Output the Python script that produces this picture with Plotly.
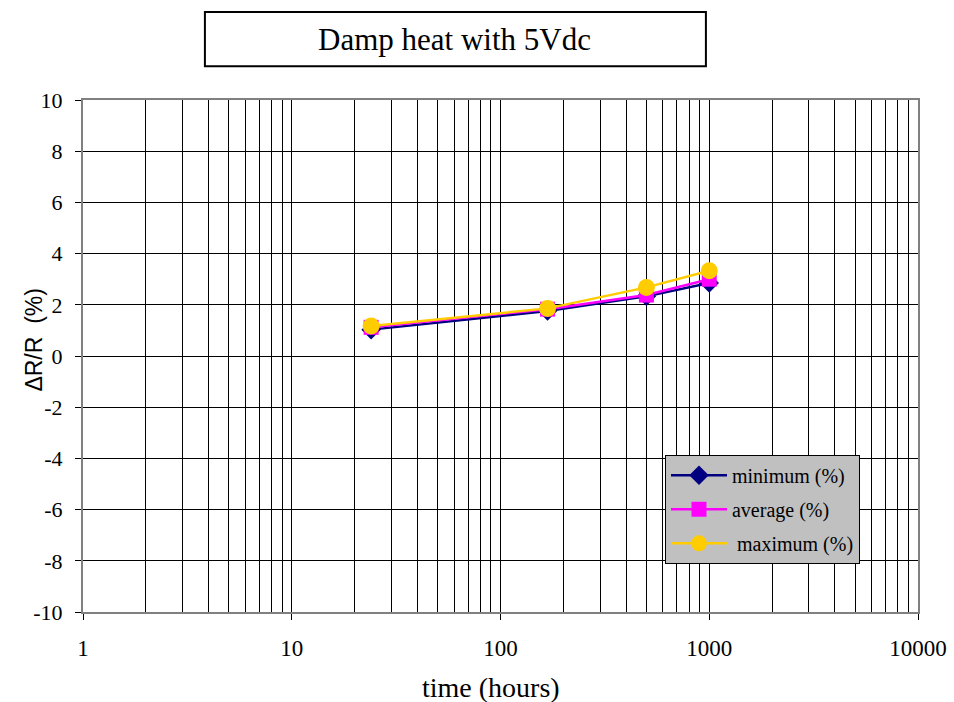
import plotly.graph_objects as go

time_hours = [24, 168, 500, 1000]
minimum_pct = [1.03, 1.76, 2.33, 2.85]
average_pct = [1.12, 1.83, 2.38, 3.0]
maximum_pct = [1.17, 1.86, 2.68, 3.33]

series_names = ["minimum (%)", "average (%)", " maximum (%)"]
y_ticks = list(range(-10, 11, 2))
x_ticks = [1, 10, 100, 1000, 10000]

serif = "Liberation Serif"
sans = "Liberation Sans"

fig = go.Figure()
fig.add_trace(go.Scatter(
    x=time_hours, y=minimum_pct, name=series_names[0], mode="lines+markers",
    line=dict(color="#000080", width=2.5),
    marker=dict(symbol="diamond", size=15, color="#000080"),
    legendgroup="a"))
fig.add_trace(go.Scatter(
    x=time_hours, y=average_pct, name=series_names[1], mode="lines+markers",
    line=dict(color="#FF00FF", width=2.5),
    marker=dict(symbol="square", size=15, color="#FF00FF"),
    legendgroup="b"))
fig.add_trace(go.Scatter(
    x=time_hours, y=maximum_pct, name=series_names[2], mode="lines+markers",
    line=dict(color="#FFCC00", width=2.5),
    marker=dict(symbol="circle", size=17, color="#FFCC00"),
    legendgroup="c"))

fig.update_layout(
    width=954, height=702,
    margin=dict(l=83, r=36, t=100, b=90),
    paper_bgcolor="white", plot_bgcolor="white",
    font=dict(family=serif, size=20, color="black"),
    showlegend=True,
    legend=dict(
        x=0.697, y=0.307, xanchor="left", yanchor="top",
        bgcolor="#c0c0c0", bordercolor="black", borderwidth=1,
        font=dict(family=serif, size=20, color="black"),
        tracegroupgap=5, traceorder="grouped", itemwidth=56,
    ),
    xaxis=dict(
        type="log", range=[0, 4], automargin=False,
        tickvals=x_ticks, ticktext=[str(v) for v in x_ticks],
        ticks="outside", ticklen=6, tickcolor="black",
        ticklabelstandoff=8, ticklabeloverflow="allow",
        showgrid=True, gridcolor="black", gridwidth=1,
        minor=dict(dtick="D1", showgrid=True, gridcolor="black", gridwidth=1, ticks=""),
        showline=True, linecolor="#808080", linewidth=2, mirror=True,
        zeroline=False,
        tickfont=dict(family=serif, size=23, color="black"),
    ),
    yaxis=dict(
        range=[-10, 10], automargin=False,
        tickvals=y_ticks, ticktext=[str(v) for v in y_ticks],
        ticks="outside", ticklen=6, tickcolor="black",
        ticklabelstandoff=8,
        showgrid=True, gridcolor="black", gridwidth=1,
        showline=True, linecolor="#808080", linewidth=2, mirror=True,
        zeroline=False,
        tickfont=dict(family=serif, size=22, color="black"),
    ),
)

# axis titles
fig.add_annotation(text="time (hours)", xref="paper", yref="paper",
                   x=0.4886, y=-0.1484, showarrow=False,
                   font=dict(family=serif, size=28, color="black"),
                   xanchor="center", yanchor="middle")
fig.add_annotation(text="ΔR/R  (%)", xref="paper", yref="paper",
                   x=-0.0587, y=0.532, showarrow=False, textangle=-90,
                   font=dict(family=sans, size=23, color="black"),
                   xanchor="center", yanchor="middle")

# boxed chart title
fig.add_shape(type="rect", xref="paper", yref="paper",
              x0=0.146, x1=0.746, y0=1.066, y1=1.172,
              line=dict(color="black", width=2), fillcolor="white")
fig.add_annotation(text="Damp heat with 5Vdc", xref="paper", yref="paper",
                   x=0.4455, y=1.119, showarrow=False,
                   font=dict(family=serif, size=31, color="black"),
                   xanchor="center", yanchor="middle")

fig.write_html("out.html",
               config={"displayModeBar": False},
               post_script="document.body.style.margin='0';document.body.style.overflow='hidden';")
